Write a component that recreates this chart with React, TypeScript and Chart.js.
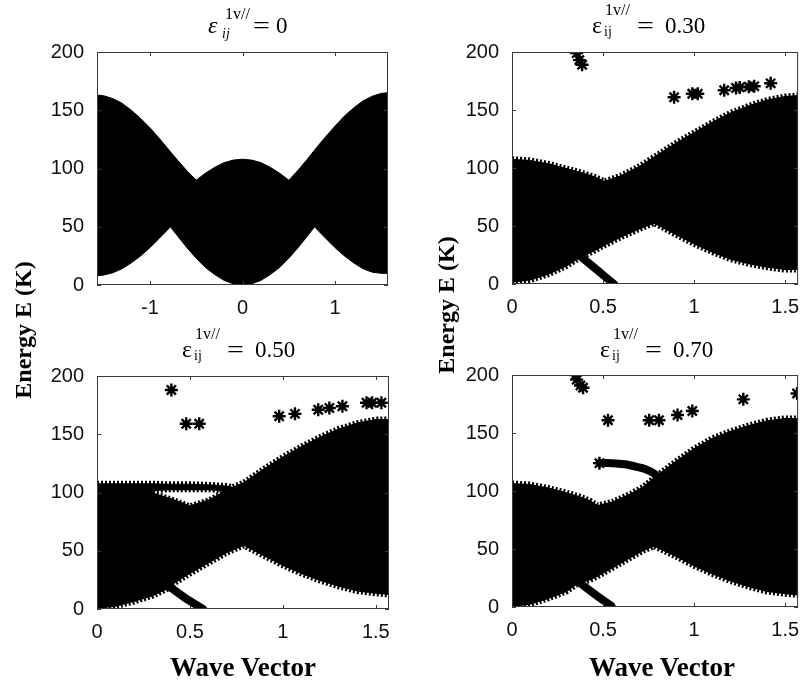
import React, { useEffect, useRef } from "react";
import { Chart, registerables } from "chart.js";

Chart.register(...registerables);

// ---------- axis ticks ----------
const yTickValues = [0, 50, 100, 150, 200];
const xTicksSym = [-1, 0, 1];
const xTicksHalf = [0, 0.5, 1, 1.5];

// ---------- panel 1 : eps = 0 ----------
const tlK = [-1.5708, -1.5, -1.4, -1.3, -1.2, -1.1, -1.0, -0.9, -0.8, -0.78, -0.7, -0.6, -0.5, -0.4, -0.3, -0.2, -0.1, 0, 0.1, 0.2, 0.3, 0.4, 0.5, 0.6, 0.7, 0.78, 0.8, 0.9, 1.0, 1.1, 1.2, 1.3, 1.4, 1.5, 1.5708];
const tlUpper = [163, 162.5, 160, 156, 150, 143, 135, 126, 116.5, 114.5, 107, 98, 90, 96, 101, 105, 107.2, 108, 107.2, 105, 101, 96, 90, 98.5, 108, 116, 118, 127.5, 136.5, 145, 152, 158, 162, 164.5, 165];
const tlLower = [8, 8.5, 10.5, 14, 19, 25, 32, 40, 48, 50, 42, 32, 23, 15, 9, 4, 1, 0, 1, 4, 9, 15, 23, 32, 42, 50, 48, 40, 32, 25, 19, 14, 11, 10, 10];

// ---------- panel 2 : eps = 0.30 ----------
const trK = [0, 0.1, 0.2, 0.3, 0.37, 0.45, 0.51, 0.6, 0.7, 0.78, 0.9, 1.0, 1.1, 1.2, 1.3, 1.4, 1.5, 1.5708];
const trUpper = [108, 107, 104, 100, 97, 93, 89, 94, 102, 110, 122, 131, 140, 148, 154, 159, 162, 163];
const trLower = [1, 3, 8, 15, 22, 28, 33, 40, 47, 52, 42, 34, 27, 21, 17, 14, 12, 12];
const trStrandK = [0.33, 0.46, 0.56];
const trStrandE = [30, 13, 0];
const trStarK = [0.355, 0.37, 0.385, 0.89, 0.99, 1.02, 1.165, 1.23, 1.25, 1.3, 1.33, 1.42];
const trStarE = [199, 193, 189, 161, 164, 164, 167, 169, 169.5, 170, 170.5, 173];

// ---------- panel 3 : eps = 0.50 ----------
const blK = [0, 0.1, 0.2, 0.3, 0.38, 0.42, 0.5, 0.6, 0.7, 0.73, 0.79, 0.9, 1.0, 1.1, 1.2, 1.3, 1.4, 1.5, 1.5708];
const blUpper = [108, 108, 108, 108, 107.5, 107.5, 107.5, 107, 106, 105, 109, 121, 131, 140, 148, 155, 160, 163, 163];
const blLower = [0, 2, 6, 11, 17, 22, 30, 39, 48, 50, 54, 45, 37, 30, 24, 19, 15, 13, 12];
const blLensK = [0.3, 0.4, 0.5, 0.6, 0.67];
const blLensTop = [101, 102, 102, 102, 101];
const blLensBottom = [100, 95, 89, 94, 100];
const blStrandK = [0.35, 0.47, 0.57];
const blStrandE = [24, 10, 0];
const blStarK = [0.40, 0.48, 0.55, 0.98, 1.065, 1.19, 1.25, 1.32, 1.45, 1.48, 1.53];
const blStarE = [188, 159, 159, 165.5, 167.5, 171, 172.5, 174, 177, 177, 177];

// ---------- panel 4 : eps = 0.70 ----------
const brK = [0, 0.1, 0.2, 0.3, 0.365, 0.43, 0.47, 0.55, 0.65, 0.72, 0.78, 0.9, 1.0, 1.1, 1.2, 1.3, 1.4, 1.5, 1.5708];
const brUpper = [107, 106, 103, 99, 96, 92, 88, 91, 98, 104, 112, 126, 137, 146, 152, 157, 161, 163, 163];
const brLower = [0, 2, 7, 13, 20, 23, 26, 33, 42, 48, 52, 43, 35, 28, 22, 17, 13, 11, 10];
const brStrandK = [0.33, 0.455, 0.545];
const brStrandE = [26, 11, 1];
const brBranchK = [0.48, 0.55, 0.62, 0.68, 0.73, 0.78, 0.81];
const brBranchE = [124, 124, 123, 121, 119, 115, 110];
const brStarK = [0.35, 0.355, 0.376, 0.39, 0.48, 0.527, 0.753, 0.807, 0.909, 0.99, 1.27, 1.565];
const brStarE = [200, 196, 191, 189, 124, 161, 161, 161, 165.5, 169, 179, 184];

const SANS = '"Liberation Sans", Arial, Helvetica, sans-serif';
const SERIF = '"Liberation Serif", "Times New Roman", Times, serif';

type Pair = { k: number[]; e: number[] };
interface PanelDef {
  id: string;
  box: { left: number; top: number; width: number; height: number };
  area: { l: number; t: number; r: number; b: number };
  xMin: number;
  xMax: number;
  xTicks: number[];
  k: number[];
  upper: number[];
  lower: number[];
  serrated: boolean;
  lens?: { k: number[]; top: number[]; bottom: number[] };
  strands: Pair[];
  stars?: Pair;
  title: { italic: boolean; value: string; x: number; base: number; supDx: number; supDy: number; subDx: number; subDy: number; eqDx: number; valDx: number };
}

const panels: PanelDef[] = [
  {
    id: "tl",
    box: { left: 0, top: 0, width: 400, height: 320 },
    area: { l: 97, t: 52, r: 388, b: 285 },
    xMin: -1.5708, xMax: 1.5708, xTicks: xTicksSym,
    k: tlK, upper: tlUpper, lower: tlLower, serrated: false,
    strands: [],
    title: { italic: true, value: "0", x: 208, base: 33, supDx: 17, supDy: 14, subDx: 14, subDy: 5, eqDx: 45, valDx: 68 },
  },
  {
    id: "tr",
    box: { left: 400, top: 0, width: 407, height: 320 },
    area: { l: 512, t: 52, r: 803, b: 284 },
    xMin: 0, xMax: 1.5708, xTicks: xTicksHalf,
    k: trK, upper: trUpper, lower: trLower, serrated: true,
    strands: [{ k: trStrandK, e: trStrandE }],
    stars: { k: trStarK, e: trStarE },
    title: { italic: false, value: "0.30", x: 592, base: 33, supDx: 13, supDy: 18, subDx: 12, subDy: 3, eqDx: 45, valDx: 73 },
  },
  {
    id: "bl",
    box: { left: 0, top: 320, width: 400, height: 363 },
    area: { l: 97, t: 376, r: 389, b: 609 },
    xMin: 0, xMax: 1.5708, xTicks: xTicksHalf,
    k: blK, upper: blUpper, lower: blLower, serrated: true,
    lens: { k: blLensK, top: blLensTop, bottom: blLensBottom },
    strands: [{ k: blStrandK, e: blStrandE }],
    stars: { k: blStarK, e: blStarE },
    title: { italic: false, value: "0.50", x: 182, base: 357, supDx: 13, supDy: 18, subDx: 12, subDy: 3, eqDx: 45, valDx: 73 },
  },
  {
    id: "br",
    box: { left: 400, top: 320, width: 407, height: 363 },
    area: { l: 512, t: 375, r: 804, b: 607 },
    xMin: 0, xMax: 1.5708, xTicks: xTicksHalf,
    k: brK, upper: brUpper, lower: brLower, serrated: true,
    strands: [{ k: brStrandK, e: brStrandE }, { k: brBranchK, e: brBranchE }],
    stars: { k: brStarK, e: brStarE },
    title: { italic: false, value: "0.70", x: 600, base: 357, supDx: 13, supDy: 18, subDx: 12, subDy: 3, eqDx: 45, valDx: 73 },
  },
];

const pts = (k: number[], e: number[]) => k.map((x, i) => ({ x, y: e[i] }));

function buildDatasets(p: PanelDef): any[] {
  const ds: any[] = [];
  if (p.stars) {
    ds.push({
      data: pts(p.stars.k, p.stars.e),
      showLine: false,
      pointStyle: "star",
      pointRadius: 6.5,
      pointBorderWidth: 2.4,
      pointBorderColor: "#000",
      pointBackgroundColor: "#000",
      order: 0,
      clip: 0,
    });
  }
  p.strands.forEach((s) => {
    ds.push({
      data: pts(s.k, s.e),
      borderColor: "#000",
      borderWidth: 8,
      borderCapStyle: "round",
      pointRadius: 0,
      fill: false,
      tension: 0.3,
      order: 1,
      clip: 0,
    });
  });
  if (p.lens) {
    ds.push({
      data: pts(p.lens.k, p.lens.top),
      borderColor: "#000",
      borderWidth: 4,
      borderDash: [2, 2],
      backgroundColor: "#fff",
      fill: "+1",
      pointRadius: 0,
      tension: 0,
      order: 3,
      clip: 0,
    });
    ds.push({
      data: pts(p.lens.k, p.lens.bottom),
      borderColor: "#000",
      borderWidth: 4,
      borderDash: [2, 2],
      fill: false,
      pointRadius: 0,
      tension: 0,
      order: 2,
      clip: 0,
    });
  }
  const edge = p.serrated
    ? { borderWidth: 5, borderDash: [2, 2] }
    : { borderWidth: 1, borderDash: [] };
  ds.push({
    data: pts(p.k, p.upper),
    borderColor: "#000",
    backgroundColor: "#000",
    fill: "+1",
    pointRadius: 0,
    tension: 0,
    order: 5,
    clip: 0,
    ...edge,
  });
  ds.push({
    data: pts(p.k, p.lower),
    borderColor: "#000",
    fill: false,
    pointRadius: 0,
    tension: 0,
    order: 5,
    clip: 0,
    ...edge,
  });
  return ds;
}

function framePlugin(p: PanelDef) {
  return {
    id: "frame_" + p.id,
    afterDraw(chart: any) {
      const { ctx, chartArea } = chart;
      const xs = chart.scales.x;
      const ys = chart.scales.y;
      ctx.save();
      ctx.strokeStyle = "#3a3a3a";
      ctx.lineWidth = 1;
      ctx.strokeRect(chartArea.left + 0.5, chartArea.top + 0.5, chartArea.right - chartArea.left - 1, chartArea.bottom - chartArea.top - 1);
      ctx.beginPath();
      p.xTicks.forEach((v) => {
        const px = Math.round(xs.getPixelForValue(v)) + 0.5;
        ctx.moveTo(px, chartArea.bottom);
        ctx.lineTo(px, chartArea.bottom - 4);
        ctx.moveTo(px, chartArea.top);
        ctx.lineTo(px, chartArea.top + 4);
      });
      yTickValues.forEach((v) => {
        const py = Math.round(ys.getPixelForValue(v)) + 0.5;
        ctx.moveTo(chartArea.left, py);
        ctx.lineTo(chartArea.left + 4, py);
        ctx.moveTo(chartArea.right, py);
        ctx.lineTo(chartArea.right - 4, py);
      });
      ctx.stroke();

      // title  ε_ij^{1v//} = value
      const t = p.title;
      const x0 = t.x - p.box.left;
      const b = t.base - p.box.top;
      const it = t.italic ? "italic " : "";
      ctx.fillStyle = "#000";
      ctx.textAlign = "left";
      ctx.textBaseline = "alphabetic";
      ctx.font = `${it}24px ${SERIF}`;
      ctx.fillText("ε", x0, b);
      ctx.font = `16px ${SERIF}`;
      ctx.fillText("1v//", x0 + t.supDx, b - t.supDy);
      ctx.font = `${it}14px ${SERIF}`;
      ctx.fillText("ij", x0 + t.subDx, b + t.subDy);
      ctx.font = `23px ${SERIF}`;
      ctx.save();
      ctx.translate(x0 + t.eqDx, b);
      ctx.scale(1.3, 1);
      ctx.fillText("=", 0, 0);
      ctx.restore();
      ctx.fillText(t.value, x0 + t.valDx, b);
      ctx.restore();
    },
  };
}

function Panel({ p }: { p: PanelDef }) {
  const ref = useRef<HTMLCanvasElement | null>(null);
  useEffect(() => {
    if (!ref.current) return;
    const yW = p.area.l - p.box.left;
    const xH = p.box.top + p.box.height - p.area.b;
    const tickFont = { family: SANS, size: 20 };
    const chart = new Chart(ref.current, {
      type: "line",
      data: { datasets: buildDatasets(p) },
      options: {
        responsive: false,
        animation: false,
        devicePixelRatio: 1,
        events: [],
        layout: {
          padding: {
            left: 0,
            top: p.area.t - p.box.top,
            right: p.box.left + p.box.width - p.area.r,
            bottom: 0,
          },
        },
        plugins: {
          legend: { display: false },
          tooltip: { enabled: false },
          title: { display: false },
          filler: { propagate: false },
        },
        scales: {
          x: {
            type: "linear",
            min: p.xMin,
            max: p.xMax,
            grid: { display: false },
            border: { display: false },
            afterBuildTicks: (ax: any) => {
              ax.ticks = p.xTicks.map((v) => ({ value: v }));
            },
            afterFit: (ax: any) => {
              ax.height = xH;
              ax.paddingLeft = 0;
              ax.paddingRight = 0;
            },
            ticks: {
              autoSkip: false,
              maxRotation: 0,
              minRotation: 0,
              padding: 3,
              color: "#111",
              font: tickFont,
              callback: (v: any) => String(v),
            },
          },
          y: {
            type: "linear",
            min: 0,
            max: 200,
            grid: { display: false },
            border: { display: false },
            afterBuildTicks: (ax: any) => {
              ax.ticks = yTickValues.map((v) => ({ value: v }));
            },
            afterFit: (ax: any) => {
              ax.width = yW;
              ax.paddingTop = 0;
              ax.paddingBottom = 0;
            },
            ticks: {
              autoSkip: false,
              padding: 5,
              color: "#111",
              font: tickFont,
              callback: (v: any) => String(v),
            },
          },
        },
      } as any,
      plugins: [framePlugin(p)],
    });
    return () => chart.destroy();
  }, [p]);
  return (
    <canvas
      ref={ref}
      width={p.box.width}
      height={p.box.height}
      style={{ position: "absolute", left: p.box.left, top: p.box.top, width: p.box.width, height: p.box.height }}
    />
  );
}

function VLabel({ cx, cy }: { cx: number; cy: number }) {
  return (
    <div
      style={{
        position: "absolute",
        left: cx - 110,
        top: cy - 15,
        width: 220,
        height: 30,
        lineHeight: "30px",
        textAlign: "center",
        transform: "rotate(-90deg)",
        font: `bold 24px ${SERIF}`,
        color: "#000",
        whiteSpace: "nowrap",
      }}
    >
      Energy E (K)
    </div>
  );
}

function HLabel({ cx }: { cx: number }) {
  return (
    <div
      style={{
        position: "absolute",
        left: cx - 150,
        top: 652,
        width: 300,
        height: 32,
        lineHeight: "32px",
        textAlign: "center",
        font: `bold 27px ${SERIF}`,
        color: "#000",
        whiteSpace: "nowrap",
      }}
    >
      Wave Vector
    </div>
  );
}

export default function App() {
  return (
    <div style={{ position: "absolute", left: 0, top: 0, width: 807, height: 683, background: "#fff", overflow: "hidden" }}>
      {panels.map((p) => (
        <Panel key={p.id} p={p} />
      ))}
      <VLabel cx={25} cy={330} />
      <VLabel cx={448} cy={305} />
      <HLabel cx={243} />
      <HLabel cx={662} />
    </div>
  );
}
